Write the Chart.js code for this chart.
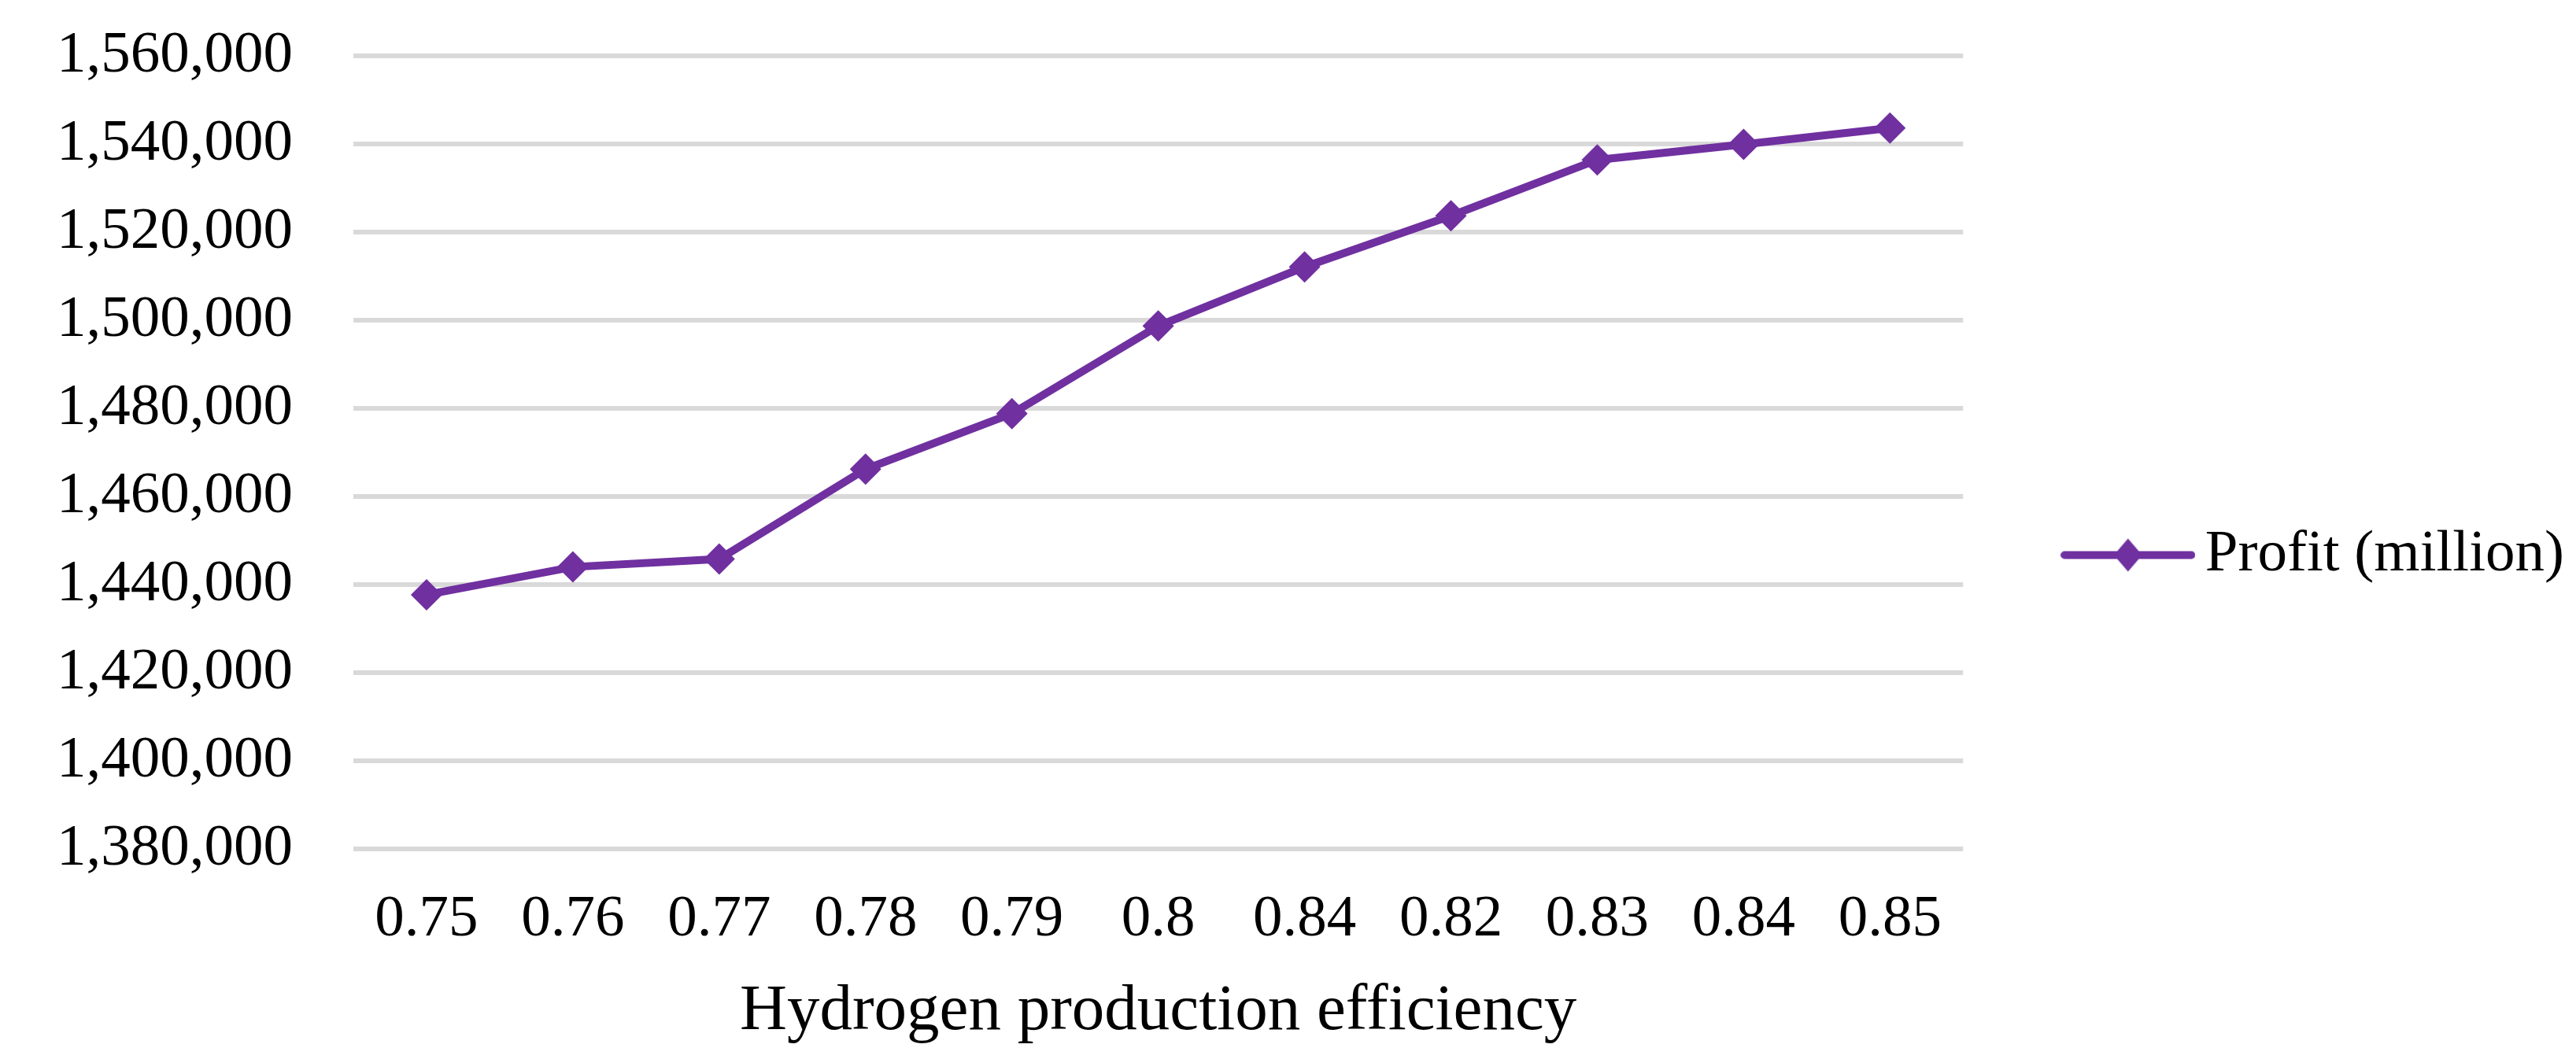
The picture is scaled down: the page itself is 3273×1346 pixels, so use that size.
<!DOCTYPE html>
<html>
<head>
<meta charset="utf-8">
<script src="https://cdn.jsdelivr.net/npm/chart.js@4.4.1/dist/chart.umd.min.js"></script>
<style>
    html, body { margin: 0; padding: 0; background: #fff; }
    #box { width: 3273px; height: 1346px; }
</style>
</head>
<body>
<div id="box"><canvas id="graficoLucro"></canvas></div>
<script>
// dados
var eficiencia = ['0.75', '0.76', '0.77', '0.78', '0.79', '0.8', '0.84', '0.82', '0.83', '0.84', '0.85'];
var lucro = [1437700, 1444000, 1445800, 1466200, 1478800, 1498700, 1512100, 1523700, 1536400, 1539900, 1543600];
var yMin = 1380000;
var yMax = 1560000;
var yPasso = 20000;

var roxo = '#7030A0';
var fonte = '"Liberation Serif", "Times New Roman", serif';

// icone da legenda: linha + losango (estilo excel)
var icone = document.createElement('canvas');
icone.width = 171;
icone.height = 46;
var ic = icone.getContext('2d');
ic.strokeStyle = roxo;
ic.lineWidth = 10;
ic.lineCap = 'round';
ic.beginPath();
ic.moveTo(5, 23);
ic.lineTo(166, 23);
ic.stroke();
ic.fillStyle = roxo;
ic.beginPath();
ic.moveTo(85.5, 2);
ic.lineTo(103.5, 23);
ic.lineTo(85.5, 44);
ic.lineTo(67.5, 23);
ic.closePath();
ic.fill();

var ctx = document.getElementById('graficoLucro').getContext('2d');

var graficoLucro = new Chart(ctx, {
    type: 'line',
    data: {
        labels: eficiencia,
        datasets: [{
            label: 'Profit (million)',
            data: lucro,
            borderColor: roxo,
            backgroundColor: roxo,
            borderWidth: 10,
            pointStyle: 'rectRot',
            pointRadius: 20,
            pointBackgroundColor: roxo,
            pointBorderWidth: 0,
            tension: 0,
            fill: false
        }]
    },
    options: {
        responsive: true,
        maintainAspectRatio: false,
        animation: false,
        layout: {
            padding: { top: 71, right: 5, bottom: 6, left: 72 }
        },
        plugins: {
            tooltip: { enabled: false },
            legend: {
                position: 'right',
                labels: {
                    usePointStyle: true,
                    pointStyleWidth: 121,
                    padding: 149,
                    color: '#000',
                    font: { family: fonte, size: 75 },
                    generateLabels: function (chart) {
                        var ds = chart.data.datasets[0];
                        return [{
                            text: ds.label,
                            pointStyle: icone,
                            fillStyle: roxo,
                            strokeStyle: roxo,
                            lineWidth: 0,
                            fontColor: '#000',
                            datasetIndex: 0
                        }];
                    }
                }
            }
        },
        scales: {
            x: {
                offset: true,
                grid: { display: false, drawTicks: false },
                border: { display: false },
                ticks: {
                    color: '#000',
                    padding: 45,
                    autoSkip: false,
                    maxRotation: 0,
                    font: { family: fonte, size: 75 }
                },
                title: {
                    display: true,
                    text: 'Hydrogen production efficiency',
                    color: '#000',
                    padding: { top: 0, bottom: 4 },
                    font: { family: fonte, size: 83 }
                },
                afterFit: function (scale) {
                    scale.height = 261; // altura fixa do eixo x
                }
            },
            y: {
                min: yMin,
                max: yMax,
                grid: { color: '#D9D9D9', lineWidth: 6, drawTicks: false },
                border: { display: false },
                ticks: {
                    stepSize: yPasso,
                    color: '#000',
                    padding: 0,
                    crossAlign: 'far',
                    font: { family: fonte, size: 75 },
                    callback: function (value) {
                        return value.toLocaleString('en-US');
                    }
                },
                afterFit: function (scale) {
                    scale.width = 377; // rotulos + espaco ate a area do grafico
                }
            }
        }
    }
});
</script>
</body>
</html>
